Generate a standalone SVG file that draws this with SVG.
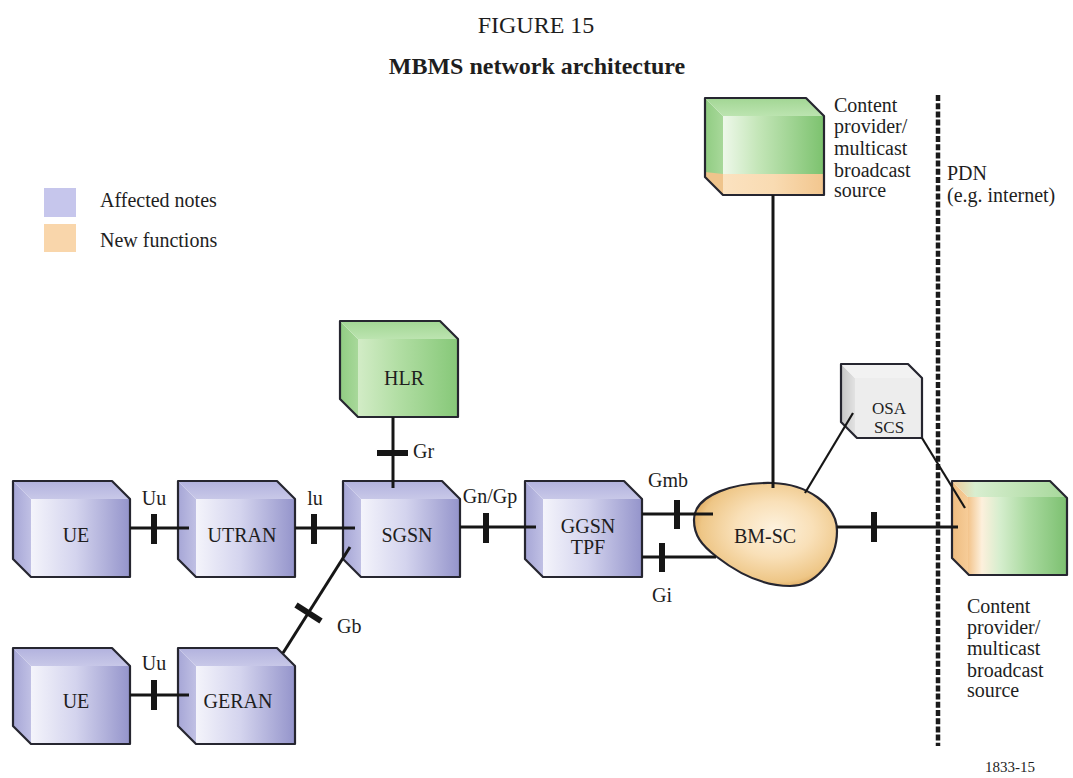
<svg xmlns="http://www.w3.org/2000/svg" xmlns:xlink="http://www.w3.org/1999/xlink" width="1073" height="778" viewBox="0 0 1073 778">
<style>
text{font-family:"Liberation Serif","Times New Roman",serif;font-size:20px;fill:#1e1e1e}
.title{font-size:24px}
.bold{font-weight:bold}
.mid{text-anchor:middle}
.osa{font-size:17px}
.edge{stroke:#262630;stroke-width:2.2;fill:none;stroke-linejoin:round}
.line{stroke:#161616;stroke-width:3;fill:none}
.thin{stroke:#161616;stroke-width:2.2;fill:none}
.tick{stroke:#161616;stroke-width:6;fill:none}
.dash{stroke:#1a1a1a;stroke-width:4.5;stroke-dasharray:6 2.2;fill:none}
.small{font-size:15px}
</style>
<defs>
<linearGradient id="pFront" x1="0" y1="0" x2="1" y2="0">
<stop offset="0" stop-color="#f4f4fb"/><stop offset="0.45" stop-color="#d4d4ee"/><stop offset="1" stop-color="#9494cb"/>
</linearGradient>
<linearGradient id="pLeft" x1="0" y1="0" x2="1" y2="0">
<stop offset="0" stop-color="#a6a6d6"/><stop offset="1" stop-color="#c0c0e4"/>
</linearGradient>
<linearGradient id="pTop" x1="0" y1="0" x2="0" y2="1">
<stop offset="0" stop-color="#b2b2de"/><stop offset="1" stop-color="#c8c8e8"/>
</linearGradient>
<linearGradient id="gFront" x1="0" y1="0" x2="1" y2="0">
<stop offset="0" stop-color="#d2ecc6"/><stop offset="0.4" stop-color="#b2dea4"/><stop offset="1" stop-color="#86c878"/>
</linearGradient>
<linearGradient id="gLeft" x1="0" y1="0" x2="1" y2="0">
<stop offset="0" stop-color="#90cc82"/><stop offset="1" stop-color="#a8d89a"/>
</linearGradient>
<linearGradient id="gTop" x1="0" y1="0" x2="0" y2="1">
<stop offset="0" stop-color="#a2d694"/><stop offset="1" stop-color="#bce4b0"/>
</linearGradient>
<linearGradient id="g2Front" x1="0" y1="0" x2="1" y2="0">
<stop offset="0" stop-color="#eef8ea"/><stop offset="0.35" stop-color="#c4e6b8"/><stop offset="1" stop-color="#7cc26e"/>
</linearGradient>
<linearGradient id="oBand" x1="0" y1="0" x2="1" y2="0">
<stop offset="0" stop-color="#fbe2c0"/><stop offset="0.5" stop-color="#f9dbb2"/><stop offset="1" stop-color="#f2c68e"/>
</linearGradient>
<linearGradient id="rFront" x1="0" y1="0" x2="1" y2="0">
<stop offset="0" stop-color="#f3c48c"/><stop offset="0.14" stop-color="#fdf0dc"/><stop offset="0.32" stop-color="#d6eece"/><stop offset="0.6" stop-color="#aadaa0"/><stop offset="1" stop-color="#7cc070"/>
</linearGradient>
<linearGradient id="rLeft" x1="0" y1="0" x2="1" y2="0">
<stop offset="0" stop-color="#eebc80"/><stop offset="1" stop-color="#f6cc98"/>
</linearGradient>
<linearGradient id="rTop" x1="0" y1="0" x2="1" y2="0">
<stop offset="0" stop-color="#f0c896"/><stop offset="0.2" stop-color="#d8eed0"/><stop offset="1" stop-color="#a6d89a"/>
</linearGradient>
<linearGradient id="sLeft" x1="0" y1="0" x2="1" y2="0">
<stop offset="0" stop-color="#c6c6c6"/><stop offset="1" stop-color="#e2e2e2"/>
</linearGradient>
<radialGradient id="bm" cx="0.56" cy="0.45" r="0.6">
<stop offset="0" stop-color="#fdf2de"/><stop offset="0.45" stop-color="#f9e0b8"/><stop offset="0.85" stop-color="#eec686"/><stop offset="1" stop-color="#dca458"/>
</radialGradient>
<g id="purpleBox">
<polygon points="0,0 18,18 18,96 0,78" fill="url(#pLeft)"/>
<polygon points="0,0 99,0 117,18 18,18" fill="url(#pTop)"/>
<rect x="18" y="18" width="99" height="78" fill="url(#pFront)"/>
<polygon class="edge" points="0,0 99,0 117,18 117,96 18,96 0,78"/>
</g>
</defs>

<rect width="1073" height="778" fill="#ffffff"/>

<text class="title mid" x="536" y="33">FIGURE 15</text>
<text class="title bold mid" x="537" y="74">MBMS network architecture</text>

<g id="legend">
<rect x="44" y="188" width="32" height="29" fill="#c6c6ec"/>
<rect x="44" y="224" width="32" height="28" fill="#f9d6ab"/>
<text x="100" y="207">Affected notes</text>
<text x="100" y="247">New functions</text>
</g>

<g id="pdn-boundary">
<line class="dash" x1="938" y1="95" x2="938" y2="746"/>
<text x="947" y="180">PDN</text>
<text x="947" y="202">(e.g. internet)</text>
</g>

<g id="ue1">
<use xlink:href="#purpleBox" href="#purpleBox" x="13" y="481"/>
<text class="mid" x="76" y="542">UE</text>
</g>
<g id="utran">
<use xlink:href="#purpleBox" href="#purpleBox" x="178" y="481"/>
<text class="mid" x="242" y="542">UTRAN</text>
</g>
<g id="sgsn">
<use xlink:href="#purpleBox" href="#purpleBox" x="343" y="481"/>
<text class="mid" x="407" y="542">SGSN</text>
</g>
<g id="ggsn">
<use xlink:href="#purpleBox" href="#purpleBox" x="525" y="481"/>
<text class="mid" x="588" y="533">GGSN</text>
<text class="mid" x="588" y="554">TPF</text>
</g>
<g id="ue2">
<use xlink:href="#purpleBox" href="#purpleBox" x="13" y="648"/>
<text class="mid" x="76" y="708">UE</text>
</g>
<g id="geran">
<use xlink:href="#purpleBox" href="#purpleBox" x="178" y="648"/>
<text class="mid" x="238" y="708">GERAN</text>
</g>

<g id="hlr">
<polygon points="340,321 358,339 358,417 340,399" fill="url(#gLeft)"/>
<polygon points="340,321 440,321 458,339 358,339" fill="url(#gTop)"/>
<rect x="358" y="339" width="100" height="78" fill="url(#gFront)"/>
<polygon class="edge" points="340,321 440,321 458,339 458,417 358,417 340,399"/>
<text class="mid" x="404" y="385">HLR</text>
</g>

<g id="content-provider-top">
<polygon points="705,98 723,116 723,195 705,177" fill="url(#gLeft)"/>
<polygon points="705,172 723,174 723,195 705,177" fill="#efc48c"/>
<polygon points="705,98 806,98 824,116 723,116" fill="url(#gTop)"/>
<rect x="723" y="116" width="101" height="79" fill="url(#g2Front)"/>
<rect x="723" y="174" width="101" height="21" fill="url(#oBand)"/>
<polygon class="edge" points="705,98 806,98 824,116 824,195 723,195 705,177"/>
<text x="834" y="112">Content</text>
<text x="834" y="133">provider/</text>
<text x="834" y="155">multicast</text>
<text x="834" y="177">broadcast</text>
<text x="834" y="197">source</text>
</g>

<g id="osa-scs">
<polygon points="841,364 855,378 855,438 841,422" fill="url(#sLeft)"/>
<polygon points="841,364 908,364 922,378 855,378" fill="#f2f2f2"/>
<rect x="855" y="378" width="67" height="60" fill="#ededed"/>
<polygon class="edge" points="841,364 908,364 922,378 922,438 857,438 841,422"/>
<text class="mid osa" x="889" y="414">OSA</text>
<text class="mid osa" x="889" y="433">SCS</text>
</g>

<g id="bm-sc">
<path d="M694,520 C694,494 736,482 773,483 C806,484 837,504 837,531 C837,561 815,586 790,586 C760,586 735,571 717,557 C701,545 694,535 694,520 Z" fill="url(#bm)" stroke="#262630" stroke-width="2.2"/>
<text class="mid" x="765" y="543">BM-SC</text>
</g>

<g id="content-provider-right">
<polygon points="952,481 968,497 968,575 952,558" fill="url(#rLeft)"/>
<polygon points="952,481 1050,481 1067,498 968,497" fill="url(#rTop)"/>
<rect x="968" y="497" width="99" height="78" fill="url(#rFront)"/>
<polygon class="edge" points="952,481 1050,481 1067,498 1067,575 969,575 952,558"/>
<text x="967" y="613">Content</text>
<text x="967" y="634">provider/</text>
<text x="967" y="655">multicast</text>
<text x="967" y="677">broadcast</text>
<text x="967" y="697">source</text>
</g>

<g id="connectors">
<line class="line" x1="130" y1="528" x2="189" y2="528"/>
<line class="tick" x1="154" y1="514" x2="154" y2="544"/>
<line class="line" x1="295" y1="528" x2="355" y2="528"/>
<line class="tick" x1="314" y1="514" x2="314" y2="544"/>
<line class="line" x1="130" y1="695" x2="189" y2="695"/>
<line class="tick" x1="154" y1="680" x2="154" y2="710"/>
<line class="line" x1="350" y1="547" x2="283" y2="653"/>
<line class="tick" x1="296" y1="605" x2="321" y2="621"/>
<line class="line" x1="393" y1="417" x2="393" y2="488"/>
<line class="tick" x1="377" y1="453" x2="408" y2="453"/>
<line class="line" x1="460" y1="527" x2="536" y2="527"/>
<line class="tick" x1="486" y1="513" x2="486" y2="543"/>
<line class="line" x1="642" y1="514" x2="713" y2="514"/>
<line class="tick" x1="677" y1="500" x2="677" y2="529"/>
<line class="line" x1="642" y1="557" x2="716" y2="557"/>
<line class="tick" x1="662" y1="543" x2="662" y2="572"/>
<line class="line" x1="773" y1="195" x2="773" y2="488"/>
<line class="line" x1="837" y1="527" x2="958" y2="527"/>
<line class="tick" x1="874" y1="512" x2="874" y2="542"/>
<line class="thin" x1="805" y1="493" x2="853" y2="413"/>
<line class="thin" x1="922" y1="438" x2="965" y2="508"/>
<text class="mid" x="154" y="505">Uu</text>
<text class="mid" x="315" y="505">lu</text>
<text class="mid" x="154" y="670">Uu</text>
<text x="337" y="633">Gb</text>
<text x="413" y="458">Gr</text>
<text class="mid" x="490" y="503">Gn/Gp</text>
<text class="mid" x="668" y="487">Gmb</text>
<text class="mid" x="662" y="602">Gi</text>
</g>

<text class="small" x="985" y="772">1833-15</text>
</svg>
